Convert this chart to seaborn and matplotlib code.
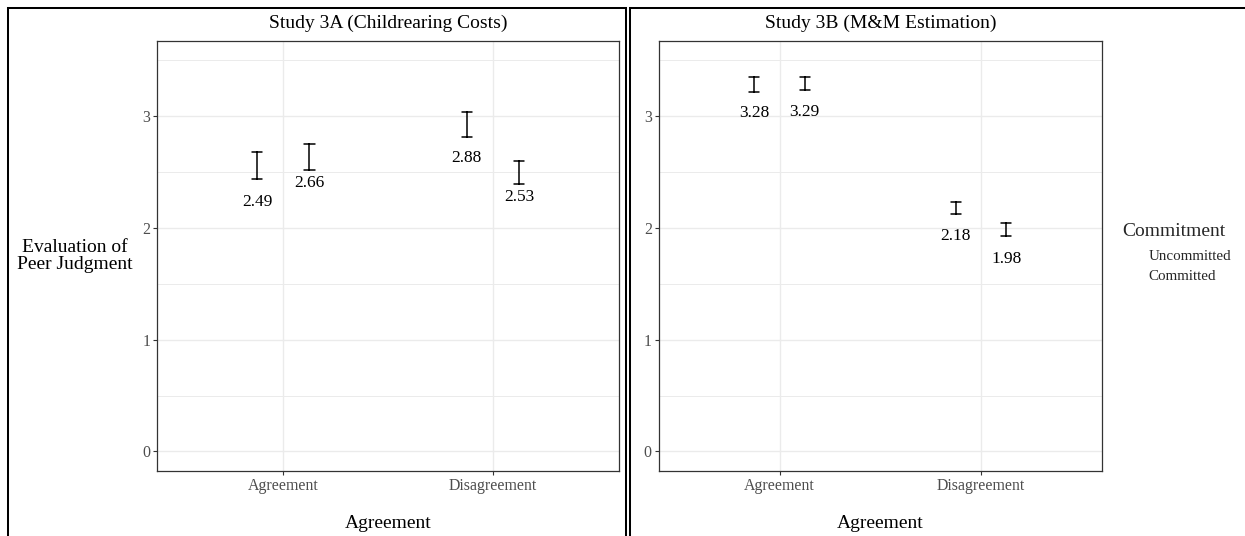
import numpy as np
import pandas as pd
import matplotlib
matplotlib.use("Agg")
import matplotlib.pyplot as plt
from matplotlib.lines import Line2D
import seaborn as sns

# ---- data -------------------------------------------------------------
agreement = ["Agreement", "Disagreement"]
commitment = ["Uncommitted", "Committed"]
studies = ["Study 3A (Childrearing Costs)", "Study 3B (M&M Estimation)"]

# reported means (order: Agreement-Uncommitted, Agreement-Committed,
#                        Disagreement-Uncommitted, Disagreement-Committed)
means_3a = [2.49, 2.66, 2.88, 2.53]
means_3b = [3.28, 3.29, 2.18, 1.98]

# error-bar bounds, same order
err_low_3a = [2.44, 2.52, 2.81, 2.39]
err_high_3a = [2.68, 2.75, 3.04, 2.60]
err_low_3b = [3.22, 3.23, 2.12, 1.93]
err_high_3b = [3.35, 3.35, 2.23, 2.04]

y_ticks = [0, 1, 2, 3]

# ---- build long table: one row per bound, so a 100% interval spans low..high
rows = []
for study, lows, highs in [(studies[0], err_low_3a, err_high_3a),
                           (studies[1], err_low_3b, err_high_3b)]:
    k = 0
    for a in agreement:
        for c in commitment:
            rows.append((study, a, c, lows[k]))
            rows.append((study, a, c, highs[k]))
            k += 1
df = pd.DataFrame(rows, columns=["Study", "Agreement", "Commitment", "Evaluation"])
means = {studies[0]: means_3a, studies[1]: means_3b}

# ---- style ------------------------------------------------------------
sns.set_theme(style="white")
serif = ["Liberation Serif", "DejaVu Serif"]
plt.rcParams["font.family"] = serif

W, H = 1245, 536
fig = plt.figure(figsize=(W / 100, H / 100), dpi=100)

def fx(px):
    return px / W

def fy(py):
    return 1 - py / H

panel_top, panel_bot = 40.7, 471.0
panels = [(157.4, 618.8), (658.7, 1101.9)]
dodge = 0.25
label_drop = 0.255

for i, (study, (x0, x1)) in enumerate(zip(studies, panels)):
    ax = fig.add_axes([fx(x0), fy(panel_bot), (x1 - x0) / W, (panel_bot - panel_top) / H])
    sub = df[df["Study"] == study]
    sns.pointplot(
        data=sub, x="Agreement", y="Evaluation", hue="Commitment",
        order=agreement, hue_order=commitment,
        errorbar=("pi", 100), dodge=dodge, capsize=0.05,
        markers="", linestyles="none",
        palette=["black", "black"], err_kws={"linewidth": 1.1},
        legend=False, ax=ax,
    )
    # value labels under each error bar
    k = 0
    for ai, a in enumerate(agreement):
        for ci, c in enumerate(commitment):
            xpos = ai + (ci - 0.5) * dodge
            m = means[study][k]
            ax.text(xpos, m - label_drop, f"{m:.2f}", ha="center", va="center",
                    fontsize=12.5, color="black", family=serif)
            k += 1

    ax.set_xlim(-0.6, 1.6)
    ax.set_ylim(-0.175, 3.675)
    ax.set_yticks(y_ticks)
    ax.set_yticks([0.5, 1.5, 2.5, 3.5], minor=True)
    ax.set_axisbelow(True)
    ax.grid(which="major", axis="both", color="#EBEBEB", linewidth=1.0)
    ax.grid(which="minor", axis="y", color="#EBEBEB", linewidth=0.7)
    for s in ax.spines.values():
        s.set_visible(True)
        s.set_color("#333333")
        s.set_linewidth(0.9)
    ax.tick_params(axis="both", which="major", length=2.75, width=0.8,
                   color="#333333", labelcolor="#4D4D4D", labelsize=11.4, pad=2.2,
                   bottom=True, left=True)
    ax.tick_params(axis="both", which="minor", length=0)

    ax.set_title(study, fontsize=14, y=1 + (panel_top - 23.3) / (panel_bot - panel_top),
                 va="center", pad=0, color="black")
    ax.set_xlabel("Agreement", fontsize=14, color="black", va="center")
    ax.xaxis.set_label_coords(0.5, -(523 - panel_bot) / (panel_bot - panel_top))
    if i == 0:
        ax.set_ylabel("Evaluation of\nPeer Judgment", fontsize=14, rotation=0,
                      ha="center", va="center", color="black", linespacing=1.05)
        ax.yaxis.set_label_coords(-(x0 - 75) / (x1 - x0), 0.5)
    else:
        ax.set_ylabel("")

# ---- legend (blank keys, text only) -----------------------------------
fig.text(fx(1122.7), fy(232), "Commitment", fontsize=14, ha="left", va="center")
fig.text(fx(1148.5), fy(256), "Uncommitted", fontsize=10.8, ha="left", va="center")
fig.text(fx(1148.5), fy(277), "Committed", fontsize=10.8, ha="left", va="center")

# ---- frames around each sub-figure ------------------------------------
frame_kw = dict(color="black", linewidth=1.45, transform=fig.transFigure,
                solid_capstyle="projecting")
fig.add_artist(Line2D([fx(7.7), fx(7.7)], [fy(8.3), -0.05], **frame_kw))
fig.add_artist(Line2D([fx(7.7), fx(625.5)], [fy(8.3), fy(8.3)], **frame_kw))
fig.add_artist(Line2D([fx(625.5), fx(625.5)], [fy(8.3), -0.05], **frame_kw))
fig.add_artist(Line2D([fx(629.8), fx(629.8)], [fy(8.3), -0.05], **frame_kw))
fig.add_artist(Line2D([fx(629.8), 1.05], [fy(8.3), fy(8.3)], **frame_kw))

fig.savefig("out.png", dpi=100, facecolor="white")
